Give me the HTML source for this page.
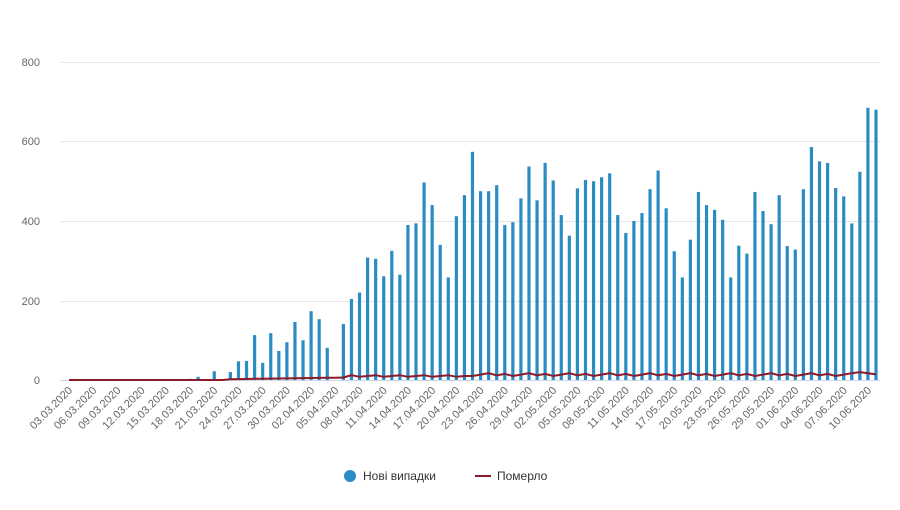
<!DOCTYPE html>
<html><head><meta charset="utf-8"><style>
body{margin:0;background:#fff;}
text{font-family:"Liberation Sans","Noto Sans CJK SC",sans-serif;}
</style></head><body>
<svg id="s" width="900" height="505" xmlns="http://www.w3.org/2000/svg">
<g stroke="#e6e6e6" stroke-width="1">
<line x1="60" y1="62.5" x2="880" y2="62.5"/>
<line x1="60" y1="141.5" x2="880" y2="141.5"/>
<line x1="60" y1="221.5" x2="880" y2="221.5"/>
<line x1="60" y1="301.5" x2="880" y2="301.5"/>
</g>
<line x1="60" y1="380.5" x2="880" y2="380.5" stroke="#ccd6eb"/>
<g font-size="11" fill="#666" text-anchor="end">
<text x="40" y="66">800</text>
<text x="40" y="145">600</text>
<text x="40" y="225">400</text>
<text x="40" y="305">200</text>
<text x="40" y="384">0</text>
</g>
<g id="bars" fill="#2b8cc4"></g>
<polyline id="dl" fill="none" stroke="#8b1a2b" stroke-width="2"/>
<g id="lab" font-size="11" fill="#666" text-anchor="end">
<text>03.03.2020</text><text>06.03.2020</text><text>09.03.2020</text><text>12.03.2020</text><text>15.03.2020</text><text>18.03.2020</text><text>21.03.2020</text><text>24.03.2020</text><text>27.03.2020</text><text>30.03.2020</text><text>02.04.2020</text><text>05.04.2020</text><text>08.04.2020</text><text>11.04.2020</text><text>14.04.2020</text><text>17.04.2020</text><text>20.04.2020</text><text>23.04.2020</text><text>26.04.2020</text><text>29.04.2020</text><text>02.05.2020</text><text>05.05.2020</text><text>08.05.2020</text><text>11.05.2020</text><text>14.05.2020</text><text>17.05.2020</text><text>20.05.2020</text><text>23.05.2020</text><text>26.05.2020</text><text>29.05.2020</text><text>01.06.2020</text><text>04.06.2020</text><text>07.06.2020</text><text>10.06.2020</text>
</g>
<circle cx="350" cy="476" r="6" fill="#2b8cc4"/>
<text x="363" y="480" font-size="12" fill="#333">Нові випадки</text>
<line x1="475" y1="476" x2="491" y2="476" stroke="#8b1a2b" stroke-width="2"/>
<text x="497" y="480" font-size="12" fill="#333">Померло</text>
</svg>
<script>
var v=[0,0,0,0,0,0,0,0,0,0,0,0,0,0,0,3,8,0,22,0,20,47,48,113,43,118,73,95,146,100,173,153,81,0,141,204,220,
308,305,261,325,265,390,394,497,440,340,258,412,465,574,475,475,490,390,397,457,537,452,546,502,415,363,482,503,500,510,520,415,370,400,420,480,527,432,324,258,353,473,440,428,403,258,338,318,473,425,392,465,337,328,480,586,550,546,483,462,394,524,685,680];
var ns="http://www.w3.org/2000/svg",g=document.getElementById('bars'),pts=[];
function X(i){return 69+8.07*i;}
for(var i=0;i<v.length;i++){
 var h=v[i]*0.3975; if(h>0){var r=document.createElementNS(ns,'rect');
 r.setAttribute('x',X(i)-1.6);r.setAttribute('y',380-h);r.setAttribute('width',3.2);r.setAttribute('height',h);g.appendChild(r);}
 var d=i<20?0:(i<35?2+(i-20)*0.3:(i<50?8+(i%3)*2:10+((i*7)%5)*1.8));
 if(i>97)d=20-(i-98)*3;
 pts.push(X(i).toFixed(1)+','+(380-d*0.3975).toFixed(1));
}
document.getElementById('dl').setAttribute('points',pts.join(' '));
var t=document.getElementById('lab').children;
for(var k=0;k<t.length;k++){var x=X(k*3)+4;t[k].setAttribute('transform','translate('+x+',391) rotate(-45)');}
</script>
</body></html>
